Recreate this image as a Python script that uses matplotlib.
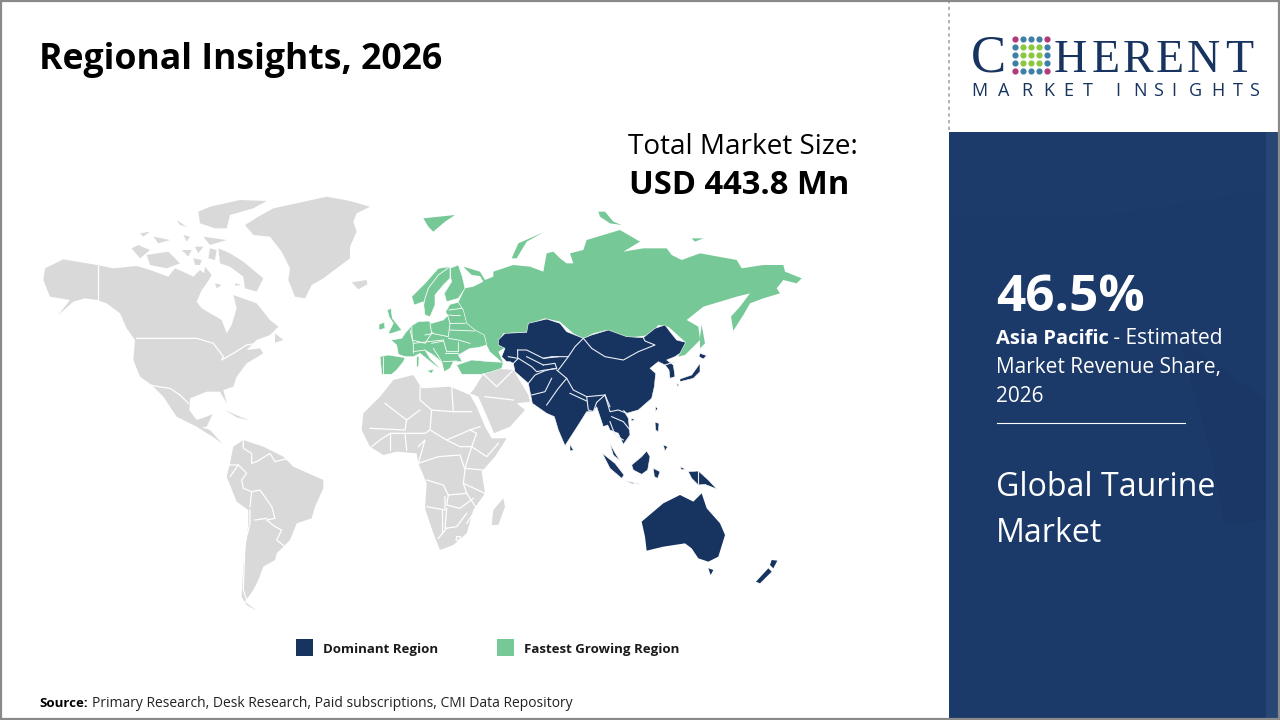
import matplotlib
matplotlib.use("Agg")
import matplotlib.pyplot as plt
from matplotlib.patches import Polygon, Rectangle
from matplotlib.transforms import Affine2D

NAVY = "#17335f"
GREEN = "#76c897"
GRAY = "#d9d9d9"
PANEL = "#1b3969"

# ---- text content
TITLE = "Regional Insights, 2026"
TOTAL_LABEL = "Total Market Size:"
TOTAL_VALUE = "USD 443.8 Mn"
SHARE = "46.5%"
REGION = "Asia Pacific"
REGION_NOTE = [" - Estimated", "Market Revenue Share,", "2026"]
MARKET = ["Global Taurine", "Market"]
LEGEND = ["Dominant Region", "Fastest Growing Region"]
SOURCE_HEAD = "Source:"
SOURCE_BODY = "Primary Research, Desk Research, Paid subscriptions, CMI Data Repository"
LOGO_BIG = "HERENT"
LOGO_BIG_X = [1054, 1092, 1123, 1156, 1187, 1225]
LOGO_SMALL = "MARKETINSIGHTS"
LOGO_SMALL_X = [971, 998, 1021, 1043, 1063, 1083, 1115, 1133, 1153, 1171, 1189, 1211, 1233, 1249]

# ---- map outlines: Americas sheet
W_GRAY = [
    # North America
    [(45,235),(100,208),(200,225),(250,235),(320,228),(360,240),(415,260),(435,235),(470,250),(490,260),(510,240),(540,265),(515,300),(500,335),(515,355),(575,390),(590,430),(605,405),(620,355),(610,315),(680,340),(720,390),(745,410),(720,435),(680,450),(650,480),(690,475),(700,490),(650,520),(620,560),(610,590),(580,600),(590,640),(570,605),(530,605),(480,625),(478,660),(500,690),(530,680),(548,672),(530,710),(515,712),(540,720),(578,762),(555,745),(500,710),(440,680),(400,620),(365,585),(330,560),(310,510),(315,450),(290,415),(270,370),(230,340),(200,330),(165,325),(130,335),(85,375),(120,330),(60,320),(40,270)],
    # South America
    [(610,770),(640,750),(700,770),(760,800),(790,830),(880,870),(880,895),(855,950),(845,985),(800,1000),(780,1050),(740,1090),(735,1110),(700,1130),(685,1170),(670,1200),(645,1235),(680,1262),(650,1245),(635,1220),(640,1130),(655,1000),(655,960),(620,935),(590,860),(600,820)],
    [(735,430),(760,450),(735,458)],
    [(585,660),(630,680),(660,692),(620,682)],
]
W_BORDERS = [
    [(203,228),(203,335)],
    [(320,445),(500,445),(550,460),(580,500),(575,510),(610,490),(650,465),(680,460)],
    [(360,585),(385,590),(420,595),(450,615),(475,640)],
    [(640,750),(640,775),(665,790),(665,820),(680,815),(720,790),(735,815),(775,805)],
    [(595,825),(625,825),(650,850),(635,870),(640,895),(665,905),(660,950)],
    [(665,905),(690,900),(725,950),(735,985),(710,990),(735,1010),(755,1020),(740,1050),(765,1070)],
    [(660,960),(660,1000),(645,1060),(640,1200),(650,1230)],
    [(675,990),(710,985)],
    [(600,860),(625,825)],
]

# ---- Arctic sheet
AR_GRAY = [
    [(345,90),(385,65),(430,40),(500,25),(590,5),(660,18),(720,35),(680,55),(670,80),(680,110),(660,155),(660,190),(620,220),(580,250),(545,270),(525,310),(495,305),(475,255),(480,220),(455,170),(420,125),(370,120)],
    [(5,160),(25,150),(60,165),(30,190)],
    [(50,180),(115,170),(150,205),(110,220),(60,210)],
    [(265,160),(300,175),(340,200),(400,250),(380,290),(345,280),(340,245),(300,215),(270,205)],
    [(240,35),(330,15),(410,18),(370,40),(300,60),(290,100),(255,100),(210,85),(205,50)],
    [(140,75),(170,95),(150,90)],
    [(30,115),(60,110),(40,125)],
    [(70,125),(120,135),(85,145)],
    [(160,120),(180,125),(170,140)],
    [(220,125),(290,135),(240,150)],
    [(240,160),(260,165),(255,195),(235,190)],
    [(155,165),(185,165),(175,185)],
    [(195,155),(220,155),(205,175)],
    [(190,190),(215,195),(210,210),(195,210)],
    [(225,215),(245,240),(215,285),(205,265),(220,250)],
    [(255,265),(275,270),(260,280)],
    [(315,265),(335,270),(315,272)],
    [(665,262),(710,255),(712,268),(685,283)],
]

# ---- Africa, Middle East, Russia, Oceania sheet
E_GRAY = [
    [(30,590),(70,540),(130,525),(155,565),(240,560),(300,585),(320,620),(345,680),(365,715),(410,715),(375,770),(335,815),(345,880),(310,930),(290,1000),(250,1035),(210,1050),(190,1000),(165,925),(170,850),(145,790),(140,760),(80,755),(40,765),(0,740),(-25,690),(-20,640)],
    [(300,580),(310,570),(340,522),(375,505),(430,510),(475,585),(480,605),(440,610),(465,630),(420,680),(372,700),(360,670),(325,590)],
    [(400,895),(405,920),(385,975),(365,975),(370,930)],
]
E_GRAY_BORDERS = [
    [(150,560),(150,600),(185,630),(245,635),(305,635)],
    [(245,560),(250,635)],
    [(45,610),(110,660),(150,630)],
    [(110,660),(105,690),(0,685)],
    [(185,630),(180,690),(165,700),(105,700)],
    [(180,690),(230,720),(300,690),(330,680)],
    [(230,720),(270,740),(305,740)],
    [(300,690),(320,700),(305,740),(350,770),(385,730)],
    [(145,790),(205,770),(270,765),(285,810),(280,850),(290,880),(235,885),(220,855),(170,840)],
    [(305,740),(285,805),(340,810)],
    [(280,850),(345,880)],
    [(235,885),(230,915),(270,925),(310,895)],
    [(170,920),(225,930),(225,890)],
    [(215,930),(215,1000)],
    [(230,925),(225,985),(260,980),(290,940)],
    [(205,1015),(230,985)],
    [(290,880),(320,925),(290,970)],
    [(5,740),(30,720),(60,700),(105,700),(110,750)],
    [(60,700),(60,750)],
    [(145,790),(165,720),(145,740)],
    [(340,522),(380,560),(430,510)],
    [(345,590),(430,600)],
    [(260,1010),(272,1010),(268,1022),(258,1020),(260,1010)],
]
E_GREEN = [
    # Russia
    [(280,200),(330,215),(345,240),(370,230),(370,215),(430,195),(480,200),(520,215),(530,160),(550,155),(570,175),(590,190),(610,190),(600,160),(640,150),(650,120),(700,105),(750,90),(810,125),(760,155),(820,145),(890,145),(905,165),(935,180),(990,160),(1100,180),(1115,205),(1180,195),(1240,195),(1245,215),(1295,235),(1280,250),(1240,240),(1220,265),(1230,280),(1180,295),(1140,310),(1120,345),(1090,392),(1083,350),(1110,320),(1140,280),(1100,290),(1050,305),(1000,320),(950,360),(985,380),(990,420),(960,450),(945,465),(925,470),(945,425),(895,380),(865,375),(840,405),(760,415),(710,390),(670,400),(640,415),(610,400),(570,365),(525,355),(480,370),(475,395),(400,400),(385,425),(410,440),(385,455),(400,490),(360,455),(350,435),(343,405),(315,390),(290,370),(280,330),(265,307),(285,265),(310,260),(340,245),(330,228),(305,225)],
    # Arctic islands and Sakhalin
    [(425,175),(445,130),(520,97),(470,125),(440,175)],
    [(160,55),(255,45),(225,65),(190,95),(175,80)],
    [(965,115),(1000,115),(975,125)],
    [(685,35),(705,35),(730,65),(755,75),(720,70),(690,50)],
    [(995,375),(1005,430),(990,445),(990,410)],
]
E_NAVY = [
    [(815,965),(880,910),(930,885),(970,905),(995,880),(1010,925),(1050,970),(1065,1005),(1045,1070),(1015,1085),(985,1075),(965,1045),(945,1030),(880,1040),(830,1052),(825,1010)],
    [(1015,1105),(1030,1110),(1022,1125)],
    [(1205,1080),(1222,1082),(1210,1105),(1200,1095)],
    [(1195,1105),(1205,1115),(1170,1150),(1158,1145)],
]

# ---- Europe sheet
EU_GREEN = [
    [(225,40),(250,30),(262,65),(270,100),(250,130),(215,140),(208,115),(230,80),(225,60)],
    [(110,125),(150,85),(190,40),(225,35),(225,70),(205,90),(180,120),(180,150),(165,185),(150,180),(145,140),(118,150)],
    [(48,255),(80,250),(90,235),(110,212),(130,200),(160,198),(170,205),(205,195),(218,182),(212,170),(225,148),(250,142),(265,165),(275,205),(300,225),(328,240),(335,270),(310,278),(285,280),(250,300),(262,320),(235,320),(225,340),(208,350),(198,320),(175,300),(150,285),(165,310),(195,340),(185,335),(135,295),(115,305),(90,305),(70,298),(65,270)],
    [(15,305),(40,300),(90,308),(85,320),(65,345),(50,358),(20,358),(18,335)],
    [(37,165),(48,160),(52,190),(72,215),(80,225),(50,235),(40,235),(55,205),(42,185)],
    [(12,208),(28,202),(30,220),(12,225)],
    [(245,330),(290,315),(345,320),(385,322),(380,340),(350,350),(320,358),(260,358)],
    [(125,305),(132,305),(131,335),(125,335)],
    [(155,347),(177,343),(170,355)],
]
EU_BORDERS = [
    [(225,35),(190,60),(160,100),(150,130),(145,155)],
    [(225,40),(225,75)],
    [(222,165),(260,160)],
    [(215,180),(255,182)],
    [(218,182),(225,205),(270,205)],
    [(225,225),(300,228)],
    [(165,205),(170,235),(220,245),(225,205)],
    [(110,212),(112,255),(150,265),(172,232)],
    [(105,225),(115,265),(115,295)],
    [(150,240),(175,235)],
    [(115,265),(205,255)],
    [(220,250),(250,255),(285,265)],
    [(205,255),(215,290),(250,290),(250,262)],
    [(170,265),(205,258)],
    [(175,280),(200,320),(205,345)],
    [(210,295),(250,295)],
    [(205,320),(245,318)],
    [(115,290),(150,285)],
    [(55,300),(90,305)],
    [(25,305),(25,358)],
]

# ---- Asia sheet
AS_NAVY = [
    [(10,75),(30,55),(95,52),(100,25),(155,12),(195,25),(215,50),(265,70),(290,60),(340,45),(395,65),(445,68),(480,40),(510,30),(525,50),(545,75),(572,82),(555,115),(540,125),(515,135),(535,150),(540,185),(525,190),(522,165),(510,150),(490,140),(465,160),(482,175),(478,215),(470,250),(430,285),(395,295),(385,285),(400,310),(405,360),(385,388),(370,355),(345,345),(338,330),(325,335),(305,275),(295,290),(275,290),(250,330),(210,392),(190,345),(178,305),(155,295),(112,265),(100,205),(60,170),(55,145),(45,140),(35,140),(20,125),(30,100),(10,90)],
    [(345,385),(358,410),(375,438),(355,420)],
    [(225,388),(235,405),(225,408)],
    [(322,415),(360,445),(387,480),(380,490),(345,460)],
    [(390,497),(435,508),(410,505)],
    [(410,450),(440,425),(455,408),(465,425),(458,465),(440,478),(415,465)],
    [(475,460),(495,470),(488,490),(478,485)],
    [(480,322),(492,325),(490,350),(482,345)],
    [(505,390),(518,395),(510,408)],
    [(482,275),(488,280),(482,290)],
    [(410,310),(420,315),(408,318)],
    [(555,455),(570,462),(560,465)],
    [(580,470),(610,468),(640,495),(665,522),(630,508),(610,510),(590,490)],
    [(615,115),(635,122),(625,132),(612,125)],
    [(615,145),(615,170),(595,190),(555,200),(555,192),(590,180)],
    [(545,205),(552,210),(548,215)],
]
AS_BORDERS = [
    [(68,105),(95,105),(145,130),(170,125),(220,125),(240,95),(265,70)],
    [(40,125),(68,130),(68,105)],
    [(55,145),(70,130),(110,155),(125,170),(150,165)],
    [(95,125),(145,150)],
    [(265,70),(290,100),(330,125),(385,135),(430,110),(480,90),(450,78),(445,68)],
    [(145,130),(190,125)],
    [(145,150),(180,145),(185,160),(155,165)],
    [(190,165),(220,125)],
    [(185,165),(215,190),(235,225),(275,245),(330,240),(345,275)],
    [(100,205),(120,180),(155,165),(185,160)],
    [(110,240),(150,230),(170,190)],
    [(155,270),(190,220),(215,190)],
    [(225,235),(275,258)],
    [(275,245),(280,285),(295,290),(305,262),(330,240)],
    [(330,240),(345,290),(370,285),(395,295)],
    [(350,305),(385,320),(405,345)],
    [(345,320),(360,360),(385,375)],
    [(510,150),(540,140)],
    [(610,468),(610,510)],
]

# ---- logo dots
DOT_X = [-16, -8, 0, 8, 16]
DOT_Y = [-16, -8, 0, 8, 16]

fig = plt.figure(figsize=(12.8, 7.2), dpi=100, facecolor="white")
ax = fig.add_axes([0, 0, 1, 1])
ax.set_xlim(0, 1280)
ax.set_ylim(720, 0)
ax.axis("off")


def sheet(x, y):
    return Affine2D().scale(1 / 3).translate(x, y) + ax.transData


WEST, ARCTIC, EAST, EUROPE, ASIA = sheet(30, 190), sheet(130, 195), sheet(370, 200), sheet(375, 255), sheet(495, 315)


def draw(shapes, where, colour, edge="none", z=2):
    for pts in shapes:
        ax.add_patch(Polygon(pts, closed=True, fc=colour, ec=edge, lw=0.4, transform=where, zorder=z))


def lines(paths, where, lw=0.9, colour="white"):
    for p in paths:
        ax.plot([a for a, _ in p], [b for _, b in p], color=colour, lw=lw, transform=where, zorder=3.5,
                solid_joinstyle="round")


draw(W_GRAY, WEST, GRAY)
draw(AR_GRAY, ARCTIC, GRAY)
draw(E_GRAY, EAST, GRAY)
draw(E_GREEN, EAST, GREEN)
draw(EU_GREEN, EUROPE, GREEN, edge="white", z=2.5)
draw(E_NAVY, EAST, NAVY)
draw(AS_NAVY, ASIA, NAVY, edge="white", z=3)
lines(W_BORDERS, WEST)
lines(E_GRAY_BORDERS, EAST)
lines(EU_BORDERS, EUROPE, lw=0.6)
lines(AS_BORDERS, ASIA, lw=0.8, colour="#e8eef5")

# panel
ax.add_patch(Rectangle((949, 132), 331, 588, fc=PANEL, ec="none", zorder=1))
ax.add_patch(Rectangle((1266, 132), 14, 588, fc="#284675", ec="none", zorder=1.1))
ax.add_patch(Polygon([(949, 132), (1266, 132), (1266, 190), (1110, 215), (949, 215)], fc="#1c3b6b", ec="none", zorder=1.1))
ax.add_patch(Polygon([(1180, 340), (1266, 400), (1266, 520), (1225, 525), (1210, 450)], fc="#1a3766", ec="none", zorder=1.1))
ax.plot([949, 949], [0, 132], color="#a6a6a6", lw=1.2, ls=(0, (2, 2)), zorder=1)
ax.add_patch(Rectangle((0.8, 0.8), 1278.4, 718.4, fc="none", ec="#8a8a8a", lw=1.6, zorder=6))

SANS = ["Open Sans", "DejaVu Sans"]
ax.text(39, 60, TITLE, fontsize=25.7, fontweight="bold", family=SANS, color="black", va="center", ha="left", zorder=5)
ax.text(628, 147, TOTAL_LABEL, fontsize=20.1, family=SANS, color="black", va="center", zorder=5)
ax.text(629, 186, TOTAL_VALUE, fontsize=23.6, fontweight="bold", family=SANS, color="black", va="center", zorder=5)

# legend
for x, colour, label in zip([296, 497], [NAVY, GREEN], LEGEND):
    ax.add_patch(Rectangle((x, 639), 17, 17, fc=colour, ec="none", zorder=4))
    ax.text(x + 27, 649.5, label, fontsize=9.5, fontweight="bold", family=SANS, color="#1a1a1a", va="center", zorder=5)

# source
ax.text(39, 703.5, SOURCE_HEAD, fontsize=9.5, fontweight="bold", family=SANS, color="black", va="center", zorder=5)
ax.text(92, 703.5, SOURCE_BODY, fontsize=10.03, family=SANS, color="#222222", va="center", zorder=5)

# panel text
ax.text(996, 298, SHARE, fontsize=37, fontweight="bold", family=SANS, color="white", va="center", zorder=5)
ax.text(996, 339, REGION, fontsize=14.5, fontweight="bold", family=SANS, color="white", va="center", zorder=5)
ax.text(1108, 339, REGION_NOTE[0], fontsize=15, family=SANS, color="white", va="center", zorder=5)
ax.text(996, 368, REGION_NOTE[1], fontsize=15, family=SANS, color="white", va="center", zorder=5)
ax.text(996, 397, REGION_NOTE[2], fontsize=15, family=SANS, color="white", va="center", zorder=5)
ax.plot([997, 1185], [423, 423], color="white", lw=0.8, zorder=5)
ax.text(996, 488, MARKET[0], fontsize=23.1, family=SANS, color="white", va="center", zorder=5)
ax.text(996, 533, MARKET[1], fontsize=23.1, family=SANS, color="white", va="center", zorder=5)

# logo
ax.text(971, 71, "C", fontsize=38, family="Liberation Serif", color=NAVY, va="baseline", zorder=5)
for ch, x in zip(LOGO_BIG, LOGO_BIG_X):
    ax.text(x, 72, ch, fontsize=33, family="Liberation Serif", color=NAVY, va="baseline", zorder=5)
for ch, x in zip(LOGO_SMALL, LOGO_SMALL_X):
    ax.text(x, 96, ch, fontsize=13, family=SANS, color=NAVY, va="baseline", zorder=5)
for dy in DOT_Y:
    for dx in DOT_X:
        r = (dx ** 2 + dy ** 2) ** 0.5
        if r > 24:
            continue
        col = "#8cc63f" if r < 12 else ("#3f7ea6" if r < 20 else "#b03a7a")
        ax.scatter(1031 + dx, 55 + dy, s=20, c=col, marker="o", lw=0, zorder=5)

fig.savefig("out.png", dpi=100, facecolor="white")
